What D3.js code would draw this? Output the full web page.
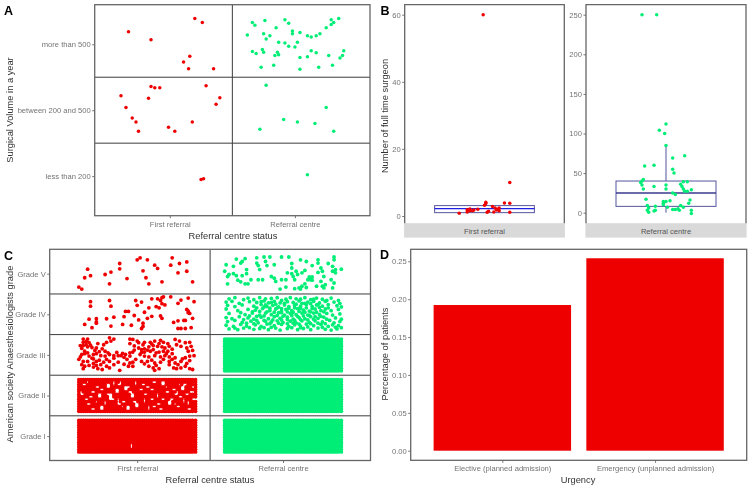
<!DOCTYPE html>
<html lang="en">

<head>
    <meta charset="UTF-8">
    <script src="https://d3js.org/d3.v7.min.js"></script>
    <style>
        html, body { margin: 0; background: #fff; }
        svg { display: block; filter: blur(0.4px); }
        text { font-family: "Liberation Sans", Arial, sans-serif; }
    </style>
    <title>Referral centre status</title>
</head>

<body>
    <div class="canvas"></div>
    <script>
        const statusLabels = ['First referral', 'Referral centre']
        const volumeLabels = ['less than 200', 'between 200 and 500', 'more than 500']
        const gradeLabels = ['Grade I', 'Grade II', 'Grade III', 'Grade IV', 'Grade V']
        const urgencyLabels = ['Elective (planned admission)', 'Emergency (unplanned admission)']
        const urgencyValues = [0.1923, 0.254]
        const yTicksRed = [0, 20, 40, 60]
        const yTicksGreen = [0, 50, 100, 150, 200, 250]
        const yTicksUrgency = [0, 0.05, 0.10, 0.15, 0.20, 0.25]

        // panel A, [jitter x, jitter y] in hundredths of a category
        const volRedHigh = [[-33,19],[-15,7],[20,39],[26,33],[16,-18],[11,-27],[15,-37],[35,-37]]
        const volRedMid = [[-15,36],[-12,34],[-8,34],[29,37],[-39,22],[-17,18],[40,19],[37,9],[-35,4],[-30,-12],[-27,-18],[18,-18],[-1,-26],[4,-32],[-25,-32]]
        const volRedLow = [[25,-5],[27,-4]]
        const volGreenHigh = [[-38,14],[-34,33],[-32,29],[-24,36],[-15,25],[-8,37],[-5,32],[-2,20],[-2,16],[4,18],[-25,16],[-20,13],[-23,8],[10,13],[13,11],[17,13],[20,16],[25,25],[29,30],[31,33],[29,37],[35,39],[-13,3],[-8,2],[-5,-3],[0,-4],[2,3],[-34,-11],[-31,-14],[-26,-8],[-25,-12],[-16,-17],[-14,-12],[-13,-16],[13,-10],[17,-13],[4,-20],[10,-19],[27,-17],[36,-21],[38,-17],[39,-10],[-27,-35],[-17,-32],[4,-38],[19,-35],[30,-32]]
        const volGreenMid = [[-23,38],[25,4],[-9,-14],[2,-18],[16,-20],[-28,-29],[31,-32]]
        const volGreenLow = [[10,2]]

        // panel B, [jitter x, surgeons]
        const surgeonsRed = [[-1,60],[19,10],[-19,0.8],[-13,1.9],[-13,1.2],[-11,1.6],[-11,2.1],[-9,1.6],[-8,1.8],[-5,2],[0,3.2],[1,3.7],[1,4.1],[2,1.1],[3,1.4],[6,2.8],[7,1.2],[9,1.8],[8,2.4],[10,2],[11,2.4],[11,1.6],[15,3.9],[19,3.8],[19,1.1]]
        const surgeonsGreen = [[-18,250],[-7,250],[0,112],[-5,104],[-1,100],[0,85],[5,69],[14,72],[-16,59],[-9,60],[5,55],[6,50],[-17,42],[-18,40],[-19,38],[-18,35],[-17,30],[-9,33],[0,35],[0,30],[13,39],[16,39],[11,36],[12,33],[13,30],[14,27],[19,29],[16,27],[5,25],[7,23],[-15,17],[-14,9],[-8,8],[-13,6],[-14,3],[-13,0.5],[-9,2],[-8,3],[-2,14],[-2,12],[0,14],[3,15],[-2,10],[1,7],[5,4],[7,4],[9,5],[11,9],[10,3],[13,7],[17,12],[18,16],[19,3],[19,-1]]
        // q1, median, q3, whisker low, whisker high
        const boxRed = [1, 2.2, 3.1, 1, 3.1]
        const boxGreen = [8, 25, 40, 0, 85]

        // panel C, [jitter x, jitter y] in hundredths of a category
        const gradeRedV = [[-40,-33],[-38,-38],[-36,-10],[-34,11],[-32,-5],[-22,-2],[-18,4],[-19,-25],[-12,25],[-12,12],[-7,-12],[0,34],[2,39],[7,34],[4,7],[6,-10],[8,-25],[12,21],[14,13],[17,-20],[23,21],[24,39],[29,25],[28,2],[34,29],[34,6],[38,-20]]
        const gradeRedIV = [[-32,31],[-32,20],[-19,34],[-18,20],[-1,34],[3,30],[0,22],[10,38],[14,38],[16,34],[17,41],[18,43],[23,43],[30,35],[28,27],[35,40],[39,31],[13,19],[15,16],[17,26],[19,23],[-8,7],[-6,7],[-9,-6],[-16,-7],[-21,-11],[-33,-12],[-36,-25],[-28,-11],[-28,-19],[-31,-33],[-28,-22],[-18,-29],[-10,-25],[-4,-27],[-2,-3],[1,-14],[5,5],[7,-10],[10,-5],[4,-22],[4,-30],[3,-35],[16,-4],[17,-10],[25,-20],[28,-16],[32,-15],[33,-15],[34,12],[35,4],[36,2],[38,-10],[28,-35],[30,-35],[33,-35],[37,-33],[35,8],[8,16]]
        const gradeRedIII = [[-37,39],[-34,39],[-37,31],[-35,33],[-33,30],[-27,28],[-19,42],[-16,39],[-21,31],[-18,34],[-23,25],[-5,39],[-3,38],[0,34],[-5,28],[1,30],[5,31],[9,31],[12,34],[16,36],[18,31],[21,28],[26,38],[29,34],[33,30],[36,31],[27,25],[30,21],[34,17],[37,21],[-39,23],[-37,23],[-34,20],[-38,16],[-28,17],[-24,15],[-22,9],[-29,11],[1,17],[3,13],[5,15],[8,20],[11,23],[14,21],[17,20],[19,17],[22,21],[21,9],[18,9],[15,7],[11,13],[9,9],[5,7],[35,9],[38,11],[-38,1],[-36,3],[-39,-5],[-34,5],[-30,1],[-28,3],[-25,-2],[-22,-3],[-19,1],[-16,-2],[-13,-2],[-11,-2],[-8,1],[-5,5],[-3,7],[-5,-3],[2,1],[5,-3],[8,-5],[12,-2],[16,-5],[19,-2],[22,-5],[26,-7],[33,-7],[36,-3],[39,-2],[-40,-11],[-37,-16],[-34,-16],[-30,-10],[-28,-16],[-26,-13],[-21,-11],[-19,-16],[-13,-18],[-7,-11],[-5,-20],[-3,-18],[3,-16],[7,-16],[10,-13],[12,-20],[16,-18],[22,-16],[26,-20],[30,-16],[34,-21],[-38,-24],[-36,-28],[-37,-34],[-30,-21],[-28,-26],[-25,-24],[-27,-34],[-24,-36],[-21,-28],[-19,-32],[-12,-38],[-6,-28],[-3,-28],[8,-28],[11,-32],[12,-38],[15,-34],[25,-32],[27,-34],[30,-32],[33,-28],[36,-34],[38,-36],[22,-24],
            [-35,25],[-32,24],[-31,18],[-36,9],[-33,-3],[-31,-8],[-26,8],[-20,5],[-14,6],[-10,4],[-16,-8],[-9,-6],[-2,12],[3,6],[7,12],[13,5],[20,3],[24,14],[15,28],[10,27],[4,25],[-2,22],[-30,-30],[-33,-26],[-23,-18],[-16,-24],[-9,-23],[-1,-11],[5,-22],[13,-26],[18,-11],[24,-11],[28,-24],[31,-10],[36,-14],[24,3]]
        const gradeGreenV = [[-39,22],[-34,18],[-40,6],[-32,36],[-29,26],[-26,37],[-28,30],[-18,39],[-18,26],[-17,20],[-13,41],[-9,41],[-12,30],[-11,20],[-6,22],[-1,41],[4,41],[6,25],[6,14],[12,34],[16,30],[20,20],[24,34],[24,26],[31,25],[35,41],[35,34],[34,18],[36,10],[40,11],[26,14],[27,6],[24,3],[3,2],[6,0],[9,6],[10,-2],[13,2],[15,8],[19,-11],[17,-15],[20,-16],[18,-8],[20,-8],[19,-15],[18,-13],[-37,-2],[-34,0],[-38,-7],[-32,-5],[-28,-5],[-25,10],[-25,0],[-31,-16],[-29,-20],[-26,-25],[-24,-25],[-22,-15],[-38,-25],[-16,10],[-17,-15],[-14,-15],[-8,-7],[-6,-11],[-5,-19],[-1,-15],[2,-15],[8,-15],[-2,-38],[2,-33],[8,-37],[11,-35],[13,-31],[15,-25],[16,-34],[12,-38],[23,-31],[27,-31],[29,-27],[28,-35],[34,-35],[35,-23],[33,-15],[28,-7],[26,-19],[34,6],[36,2],[7,-7]]
        const gradeGreenIV = [[-37,38],[-33,41],[-24,40],[-20,36],[-16,41],[-8,39],[-4,41],[2,37],[5,41],[9,38],[15,41],[19,36],[23,40],[27,37],[33,40],[38,34],
            [-39,30],[-35,32],[-30,27],[-23,31],[-18,29],[-13,33],[-10,28],[-6,32],[-2,28],[3,31],[7,29],[11,33],[13,27],[17,30],[21,32],[25,28],[29,32],[35,30],[39,27],
            [-38,22],[-33,19],[-28,23],[-20,20],[-15,24],[-11,19],[-7,22],[-3,18],[1,23],[4,19],[8,22],[12,20],[16,24],[20,19],[23,23],[27,20],[31,24],[37,21],[40,18],
            [-39,13],[-31,9],[-24,12],[-19,10],[-14,14],[-9,9],[-5,13],[-1,8],[2,12],[6,9],[10,14],[14,10],[18,8],[22,13],[26,9],[29,13],[33,9],[38,12],
            [-37,2],[-29,4],[-26,-1],[-21,3],[-16,-2],[-12,3],[-8,-1],[-3,4],[1,-2],[5,2],[9,-1],[13,3],[17,-2],[21,3],[25,-1],[30,2],[34,-2],[39,1],
            [-39,-8],[-35,-11],[-30,-6],[-24,-9],[-20,-12],[-15,-7],[-10,-11],[-6,-6],[-2,-10],[3,-7],[7,-12],[11,-8],[15,-11],[19,-6],[24,-10],[28,-7],[36,-9],[40,-12],
            [-38,-18],[-33,-15],[-28,-20],[-22,-17],[-17,-21],[-13,-15],[-8,-19],[-4,-16],[0,-20],[5,-17],[9,-21],[13,-16],[18,-20],[22,-16],[27,-19],[32,-15],[35,-21],[39,-18],
            [-39,-27],[-34,-30],[-29,-25],[-25,-29],[-19,-26],[-15,-30],[-11,-24],[-6,-28],[-1,-25],[4,-30],[8,-26],[12,-29],[16,-24],[21,-28],[26,-25],[31,-30],[34,-26],[38,-28],
            [-37,-36],[-31,-38],[-27,-34],[-20,-37],[-16,-35],[-10,-38],[-5,-34],[-2,-39],[3,-35],[10,-38],[14,-35],[19,-38],[24,-34],[29,-37],[33,-39],[37,-36],[40,-33],
            [-27,36],[-12,38],[-1,34],[12,37],[21,37],[30,34],[-15,31],[-8,29],[1,27],[9,25],[15,27],[19,26],[24,24],[-5,25],[-12,23],[-18,16],[-13,18],[-9,15],[-4,16],[-1,14],[4,15],[8,16],[12,15],[16,16],[20,14],[25,17],[31,16],
            [-21,6],[-16,7],[-11,6],[-6,5],[-1,4],[3,6],[7,5],[11,7],[15,5],[19,6],[23,5],[28,6],[-23,-4],[-18,-5],[-13,-4],[-4,-3],[0,-5],[6,-3],[10,-5],[14,-4],[18,-3],[22,-6],[26,-5],
            [-27,-13],[-18,-15],[-12,-17],[-7,-14],[-1,-14],[3,-13],[8,-15],[12,-13],[17,-14],[21,-12],[30,-12],[-25,-22],[-20,-23],[-9,-23],[-3,-22],[3,-23],[7,-22],[11,-24],[19,-23],[24,-22],[29,-23],
            [-33,-34],[-23,-33],[-13,-33],[-8,-32],[6,-33],[12,-33],[17,-31],[27,-32],[36,-32]]

        // the big blocks overlap too much to read single patients, so they are
        // filled from these two jitter lists, minus the white specks seen in them
        const solidJitterX = [-40,-38.5,-37,-35.5,-34,-32.5,-31,-29.5,-28,-26.5,-25,-23.5,-22,-20.5,-19,-17.5,-16,-14.5,-13,-11.5,-10,-8.5,-7,-5.5,-4,-2.5,-1,0.5,2,3.5,5,6.5,8,9.5,11,12.5,14,15.5,17,18.5,20,21.5,23,24.5,26,27.5,29,30.5,32,33.5,35,36.5,38,40]
        const solidJitterY = [-39,-33,-27,-21,-15,-9,-3,3,9,15,21,27,33,39]
        const gapsRedII = [[-18,-3],[-20,2],[-17,-7],[-19,-8],[-18,3],[-36,26],[-30,10],[-26,0],[-33,-20],[-30,-32],[-24,-30],[-16,30],[-13,-10],[-12,29],[-9,-14],[-8,18],[-3,0],[0,-24],[3,15],[7,22],[10,-8],[12,-28],[14,2],[18,30],[18,-10],[22,-18],[25,16],[28,-28],[30,-4],[31,18],[35,-20],[36,-34],[37,10],[-38,5],[-35,-8],[-27,20],[-22,-20],[-6,-30],[-5,8],[5,-10],[8,-30],[15,-20],[21,8],[27,5],[33,28],[39,-10],[-14,12],[-1,32],[12,33],
            [-32,-3],[-24,15],[-10,-27],[-2,-15],[4,27],[10,15],[16,-33],[24,-9],[29,27],[34,3],[-28,-15],[-20,24],[-12,-21],[-6,21],[6,3],[20,21],[26,-21],[32,-12],[38,21],[-34,33]]
        const gapsRedI = [[-4,-24]]

        const areaWidth = 751
        const areaHeight = 489
        const red = '#ee0000'
        const green = '#00ee76'
        const frameColor = '#666'
        const lineColor = '#3c3c3c'
        const tickColor = '#737373'
        const titleColor = '#333'

        const svg = d3.select('.canvas')
            .append('svg')
            .attr('width', areaWidth)
            .attr('height', areaHeight)

        const solidBlock = (gaps, xs, ys) => {
            const out = []
            solidJitterX.forEach(dx => solidJitterY.forEach(dy => {
                const nearGap = gaps.some(g => Math.hypot((g[0] - dx) * xs, (g[1] - dy) * ys) < 2.1)
                if (!nearGap) out.push([dx, dy])
            }))
            return out
        }

        const styleAxis = (g) => {
            g.select('.domain').remove()
            g.selectAll('line').attr('stroke', '#555').attr('stroke-width', 0.8)
            g.selectAll('text').attr('fill', tickColor).style('font-size', '7.6px')
        }

        const frame = (box) => {
            svg.append('rect')
                .attr('x', box.l).attr('y', box.t)
                .attr('width', box.r - box.l).attr('height', box.b - box.t)
                .attr('fill', 'none').attr('stroke', frameColor).attr('stroke-width', 1.3)
        }

        const axisTitle = (txt, x, y, rotate) => {
            svg.append('text')
                .attr('text-anchor', 'middle')
                .attr('transform', `translate(${x},${y})${rotate ? ' rotate(-90)' : ''}`)
                .attr('fill', titleColor)
                .style('font-size', '9.3px')
                .text(txt)
        }

        const panelLetter = (txt, x, y) => {
            svg.append('text')
                .attr('x', x).attr('y', y)
                .attr('fill', '#000')
                .style('font-size', '12.5px').style('font-weight', 'bold')
                .text(txt)
        }

        const dots = (rows, cx, cy, color, r) => {
            svg.append('g').selectAll('circle').data(rows).enter()
                .append('circle')
                .attr('cx', cx).attr('cy', cy)
                .attr('r', r).attr('fill', color)
        }

        // grid panels A and C
        const gridPanel = (box, yLabels, cells, r) => {
            const x = d3.scaleLinear().domain([0.4, 2.6]).range([box.l, box.r])
            const y = d3.scaleLinear().domain([0.4, yLabels.length + 0.6]).range([box.b, box.t])

            d3.range(1, yLabels.length).forEach(i => {
                svg.append('line')
                    .attr('x1', box.l).attr('x2', box.r)
                    .attr('y1', y(i + 0.5)).attr('y2', y(i + 0.5))
                    .attr('stroke', lineColor).attr('stroke-width', 1)
            })
            svg.append('line')
                .attr('x1', x(1.5)).attr('x2', x(1.5))
                .attr('y1', box.t).attr('y2', box.b)
                .attr('stroke', lineColor).attr('stroke-width', 1)

            cells.forEach(c => {
                dots(c.rows,
                    d => x(c.status + d[0] / 100),
                    d => y(c.level + d[1] / 100),
                    c.status === 1 ? red : green, r)
            })

            svg.append('g').attr('transform', `translate(0,${box.b})`)
                .call(d3.axisBottom(x).tickValues([1, 2]).tickFormat(d => statusLabels[d - 1]).tickSize(2.5).tickPadding(3))
                .call(styleAxis)
            svg.append('g').attr('transform', `translate(${box.l},0)`)
                .call(d3.axisLeft(y).tickValues(d3.range(1, yLabels.length + 1)).tickFormat(d => yLabels[d - 1]).tickSize(2.5).tickPadding(1.5))
                .call(styleAxis)
            frame(box)
        }

        const boxA = { l: 94.7, r: 370, t: 4.7, b: 215.7 }
        gridPanel(boxA, volumeLabels, [
            { status: 1, level: 3, rows: volRedHigh },
            { status: 1, level: 2, rows: volRedMid },
            { status: 1, level: 1, rows: volRedLow },
            { status: 2, level: 3, rows: volGreenHigh },
            { status: 2, level: 2, rows: volGreenMid },
            { status: 2, level: 1, rows: volGreenLow }
        ], 1.75)

        const boxC = { l: 49.7, r: 370.5, t: 249.3, b: 460.5 }
        const spanX = (boxC.r - boxC.l) / 2.2 / 100
        const spanY = (boxC.b - boxC.t) / 5.2 / 100
        gridPanel(boxC, gradeLabels, [
            { status: 1, level: 5, rows: gradeRedV },
            { status: 1, level: 4, rows: gradeRedIV },
            { status: 1, level: 3, rows: gradeRedIII },
            { status: 1, level: 2, rows: solidBlock(gapsRedII, spanX, spanY) },
            { status: 1, level: 1, rows: solidBlock(gapsRedI, spanX, spanY) },
            { status: 2, level: 5, rows: gradeGreenV },
            { status: 2, level: 4, rows: gradeGreenIV },
            { status: 2, level: 3, rows: solidBlock([], spanX, spanY) },
            { status: 2, level: 2, rows: solidBlock([], spanX, spanY) },
            { status: 2, level: 1, rows: solidBlock([], spanX, spanY) }
        ], 1.9)

        // panel B, one facet each
        const facet = (box, yDomain, ticks, rows, color, stats, label, medianColor, medianWidth, strokeColor) => {
            const x = d3.scaleLinear().domain([0.4, 1.6]).range([box.l, box.r])
            const y = d3.scaleLinear().domain(yDomain).range([box.zero, box.top])

            svg.append('rect')
                .attr('x', x(0.625)).attr('width', x(1.375) - x(0.625))
                .attr('y', y(stats[2])).attr('height', y(stats[0]) - y(stats[2]))
                .attr('fill', 'none').attr('stroke', strokeColor).attr('stroke-width', 1)
            svg.append('line')
                .attr('x1', x(1)).attr('x2', x(1))
                .attr('y1', y(stats[2])).attr('y2', y(stats[4]))
                .attr('stroke', strokeColor).attr('stroke-width', 1)
            svg.append('line')
                .attr('x1', x(1)).attr('x2', x(1))
                .attr('y1', y(stats[0])).attr('y2', y(stats[3]))
                .attr('stroke', strokeColor).attr('stroke-width', 1)
            svg.append('line')
                .attr('x1', x(0.625)).attr('x2', x(1.375))
                .attr('y1', y(stats[1])).attr('y2', y(stats[1]))
                .attr('stroke', medianColor).attr('stroke-width', medianWidth)

            dots(rows, d => x(1 + d[0] / 100), d => y(d[1]), color, 1.75)

            svg.append('rect')
                .attr('x', box.l - 0.6).attr('y', box.b)
                .attr('width', box.r - box.l + 1.2).attr('height', 14.4)
                .attr('fill', '#d9d9d9')
            svg.append('text')
                .attr('x', x(1)).attr('y', box.b + 10.3)
                .attr('text-anchor', 'middle')
                .attr('fill', '#555')
                .style('font-size', '7.6px')
                .text(label)

            svg.append('g').attr('transform', `translate(${box.l},0)`)
                .call(d3.axisLeft(y).tickValues(ticks).tickFormat(d3.format('d')).tickSize(2.5).tickPadding(1.5))
                .call(styleAxis)

            svg.append('path')
                .attr('d', `M${box.l},${box.b}V${box.t}H${box.r}V${box.b}`)
                .attr('fill', 'none').attr('stroke', frameColor).attr('stroke-width', 1.3)
        }

        facet({ l: 404.7, r: 564.3, t: 4.7, b: 223.2, zero: 216, top: 14.7 }, [0, 60], yTicksRed,
            surgeonsRed, red, boxRed, statusLabels[0], '#1f1fe6', 1.3, '#55559f')
        facet({ l: 586, r: 746, t: 4.7, b: 223.2, zero: 212.7, top: 14.7 }, [0, 250], yTicksGreen,
            surgeonsGreen, green, boxGreen, statusLabels[1], '#3a3a8c', 1.5, '#55559f')

        // panel D
        const boxD = { l: 410.7, r: 746.7, t: 249.3, b: 460.3 }
        const xD = d3.scaleLinear().domain([0.4, 2.6]).range([boxD.l, boxD.r])
        const yD = d3.scaleLinear().domain([0, 0.25]).range([450.7, 261.3])
        svg.append('g').selectAll('rect').data(urgencyValues).enter()
            .append('rect')
            .attr('x', (d, i) => xD(i + 1 - 0.45))
            .attr('width', xD(1.45) - xD(0.55))
            .attr('y', d => yD(d))
            .attr('height', d => yD(0) - yD(d))
            .attr('fill', red)
        svg.append('g').attr('transform', `translate(0,${boxD.b})`)
            .call(d3.axisBottom(xD).tickValues([1, 2]).tickFormat(d => urgencyLabels[d - 1]).tickSize(2.5).tickPadding(3))
            .call(styleAxis)
        svg.append('g').attr('transform', `translate(${boxD.l},0)`)
            .call(d3.axisLeft(yD).tickValues(yTicksUrgency).tickFormat(d3.format('.2f')).tickSize(2.5).tickPadding(1.5))
            .call(styleAxis)
        frame(boxD)

        axisTitle('Surgical Volume in a year', 13, 110, true)
        axisTitle('Referral centre status', 233, 238.5, false)
        axisTitle('Number of full time surgeon', 388, 116, true)
        axisTitle('American society Anaesthesiologists grade', 13, 354, true)
        axisTitle('Referral centre status', 210, 483, false)
        axisTitle('Percentage of patients', 388, 354, true)
        axisTitle('Urgency', 578, 483, false)

        panelLetter('A', 4, 15)
        panelLetter('B', 380.5, 15)
        panelLetter('C', 4, 259.5)
        panelLetter('D', 380, 259)
    </script>

</body>

</html>
